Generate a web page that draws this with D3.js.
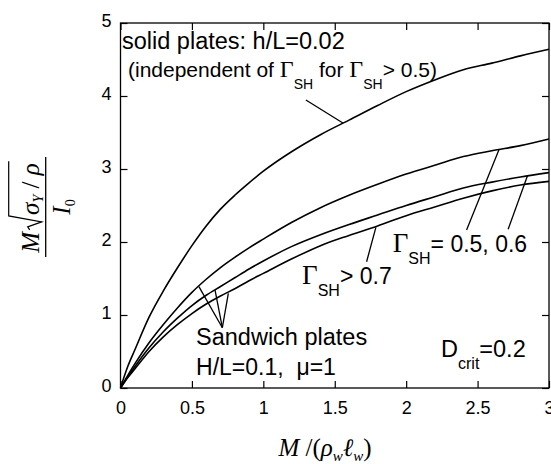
<!DOCTYPE html>
<html>
<head>
<meta charset="utf-8">
<script src="https://d3js.org/d3.v7.min.js"></script>
<style>
  body { margin: 0; background: #fff; }
  text { font-family: "Liberation Sans", Arial, Helvetica, sans-serif; fill: #000; }
  .serif { font-family: "Liberation Serif", "Times New Roman", serif; }
</style>
</head>
<body>
<div id="chart"></div>
<script>
// tick labels
var xTicks = [0, 0.5, 1, 1.5, 2, 2.5, 3];
var yTicks = [0, 1, 2, 3, 4, 5];

// shared abscissa M/(rho_w l_w)
var xValues = [0, 0.05, 0.1, 0.2, 0.3, 0.4, 0.5, 0.6, 0.7, 0.8, 0.9, 1.0,
               1.2, 1.4, 1.6, 1.8, 2.0, 2.2, 2.4, 2.6, 2.8, 3.0];

// solid plates, h/L = 0.02
var solidValues = [0, 0.29, 0.52, 0.97, 1.33, 1.65, 1.95, 2.22, 2.45, 2.64, 2.81, 2.97,
                   3.24, 3.47, 3.67, 3.87, 4.06, 4.22, 4.36, 4.45, 4.55, 4.64];
// sandwich plates, Gamma_SH = 0.5
var sandwich05 = [0, 0.17, 0.33, 0.62, 0.87, 1.10, 1.31, 1.49, 1.65, 1.79, 1.92, 2.04,
                  2.27, 2.47, 2.64, 2.79, 2.93, 3.05, 3.17, 3.25, 3.32, 3.41];
// sandwich plates, Gamma_SH = 0.6
var sandwich06 = [0, 0.15, 0.29, 0.55, 0.77, 0.96, 1.13, 1.27, 1.39, 1.51, 1.63, 1.74,
                  1.94, 2.10, 2.24, 2.37, 2.50, 2.62, 2.74, 2.82, 2.89, 2.95];
// sandwich plates, Gamma_SH > 0.7
var sandwich07 = [0, 0.14, 0.26, 0.50, 0.70, 0.87, 1.02, 1.15, 1.26, 1.36, 1.47, 1.57,
                  1.77, 1.95, 2.09, 2.22, 2.36, 2.48, 2.60, 2.70, 2.78, 2.83];

// leader lines [from, to] in data units
var leaders = [
  [[1.298, 3.945], [1.557, 3.63]],
  [[2.423, 2.164], [2.651, 3.27]],
  [[2.714, 2.174], [2.850, 2.91]],
  [[1.723, 1.730], [1.788, 2.20]],
  [[0.713, 0.826], [0.549, 1.388]],
  [[0.713, 0.826], [0.662, 1.342]],
  [[0.713, 0.826], [0.755, 1.297]]
];

var width = 551, height = 464;

var x = d3.scaleLinear().domain([0, 3]).range([120.5, 549]);
var y = d3.scaleLinear().domain([0, 5]).range([388, 23]);

var svg = d3.select("#chart").append("svg")
  .attr("width", width)
  .attr("height", height);

// axes, ticks pointing inward on all four sides
var gx = svg.append("g").attr("transform", "translate(0," + y(0) + ")")
  .call(d3.axisBottom(x).tickValues(xTicks).tickSize(-7).tickPadding(13).tickFormat(function(d) { return d; }));
var gy = svg.append("g").attr("transform", "translate(" + x(0) + ",0)")
  .call(d3.axisLeft(y).tickValues(yTicks).tickSize(-7).tickPadding(9).tickFormat(function(d) { return d; }));
svg.append("g").attr("transform", "translate(0," + y(5) + ")")
  .call(d3.axisTop(x).tickValues(xTicks).tickSize(-7).tickFormat(""));
svg.append("g").attr("transform", "translate(" + x(3) + ",0)")
  .call(d3.axisRight(y).tickValues(yTicks).tickSize(-7).tickFormat(""));

svg.selectAll(".domain").remove();
svg.selectAll(".tick line").attr("stroke", "#000").attr("stroke-width", 1.2);
svg.selectAll(".tick text").attr("font-size", 18).attr("font-family", null);
gy.selectAll(".tick text").attr("dy", "0.17em");

svg.append("rect")
  .attr("x", x(0)).attr("y", y(5))
  .attr("width", x(3) - x(0)).attr("height", y(0) - y(5))
  .attr("fill", "none").attr("stroke", "#000").attr("stroke-width", 1.3);

// curves
var line = d3.line()
  .x(function(d) { return x(d[0]); })
  .y(function(d) { return y(d[1]); })
  .curve(d3.curveMonotoneX);

[solidValues, sandwich05, sandwich06, sandwich07].forEach(function(vals) {
  svg.append("path")
    .datum(d3.zip(xValues, vals))
    .attr("d", line)
    .attr("fill", "none")
    .attr("stroke", "#000")
    .attr("stroke-width", 1.6);
});

svg.selectAll(".leader")
  .data(leaders)
  .enter().append("line")
  .attr("class", "leader")
  .attr("x1", function(d) { return x(d[0][0]); })
  .attr("y1", function(d) { return y(d[0][1]); })
  .attr("x2", function(d) { return x(d[1][0]); })
  .attr("y2", function(d) { return y(d[1][1]); })
  .attr("stroke", "#000")
  .attr("stroke-width", 1.3);

// annotation helper: parts are [text, kind] with kind "", "g" (serif Gamma) or "sub"
function label(px, py, parts, fs, gFs, subFs) {
  var t = svg.append("text")
    .attr("x", x(px)).attr("y", y(py))
    .attr("font-size", fs)
    .attr("xml:space", "preserve");
  var shift = 0;
  parts.forEach(function(p) {
    var ts = t.append("tspan").text(p[0]);
    if (p[1] === "g") ts.attr("class", "serif").attr("font-size", gFs);
    if (p[1] === "sub") {
      ts.attr("font-size", subFs).attr("dy", 12);
      shift = 12;
    } else if (shift) {
      ts.attr("dy", -shift);
      shift = 0;
    }
  });
  return t;
}

label(0.0105, 4.644, [["solid plates: h/L=0.02", ""]], 23.5);
label(0.0525, 4.26, [["(independent of ", ""], ["\u0393", "g"], ["SH", "sub"], [" for ", ""],
                     ["\u0393", "g"], ["SH", "sub"], ["> 0.5)", ""]], 21, 24, 14);
label(1.906, 1.863, [["\u0393", "g"], ["SH", "sub"], ["= 0.5, 0.6", ""]], 23, 27, 16);
label(1.271, 1.425, [["\u0393", "g"], ["SH", "sub"], ["> 0.7", ""]], 23, 27, 16);
label(0.529, 0.589, [["Sandwich plates", ""]], 23.5);
label(0.529, 0.178, [["H/L=0.1,  \u03bc=1", ""]], 23);
label(2.244, 0.425, [["D", ""], ["crit", "sub"], ["=0.2", ""]], 23.5, 27, 16);

// x axis title
var xt = svg.append("text")
  .attr("class", "serif")
  .attr("x", 325).attr("y", 456)
  .attr("text-anchor", "middle")
  .attr("font-size", 25)
  .attr("font-style", "italic")
  .attr("xml:space", "preserve");
xt.append("tspan").text("M");
xt.append("tspan").attr("font-style", "normal").text(" /(");
xt.append("tspan").text("\u03c1");
xt.append("tspan").attr("font-size", 15).attr("dy", 5).text("w");
xt.append("tspan").attr("dy", -5).text("\u2113");
xt.append("tspan").attr("font-size", 15).attr("dy", 5).text("w");
xt.append("tspan").attr("font-style", "normal").attr("dy", -5).text(")");

// y axis title: fraction, rotated
var yl = svg.append("g").attr("transform", "translate(45.7,207) rotate(-90)");
yl.append("line").attr("x1", -50).attr("x2", 50).attr("y1", 0).attr("y2", 0)
  .attr("stroke", "#000").attr("stroke-width", 1.3);

var num = yl.append("g");
var cx = 0;
function piece(str, size, dy, italic) {
  var t = num.append("text").attr("class", "serif")
    .attr("x", cx).attr("y", dy)
    .attr("font-size", size)
    .attr("font-style", italic ? "italic" : "normal")
    .attr("xml:space", "preserve")
    .text(str);
  cx += t.node().getComputedTextLength();
  return t;
}
piece("M", 25, 0, true);
cx += 2;
var rStart = cx;
cx += 15;
piece("\u03c3", 25, 0, true);
piece("Y", 14, 4, true);
piece(" / ", 25, 0, false);
piece("\u03c1", 25, 0, true);
var oEnd = cx + 2;
num.append("path")
  .attr("d", "M" + rStart + ",-9 L" + (rStart + 3) + ",-11 L" + (rStart + 8) + ",3 L" + (rStart + 14) + ",-30 L" + oEnd + ",-30")
  .attr("fill", "none").attr("stroke", "#000").attr("stroke-width", 1.2);
num.attr("transform", "translate(" + (-oEnd / 2) + ",-7)");

var den = yl.append("text").attr("class", "serif")
  .attr("x", 0).attr("y", 24)
  .attr("text-anchor", "middle")
  .attr("font-size", 25)
  .attr("font-style", "italic");
den.append("tspan").text("I");
den.append("tspan").attr("font-size", 14).attr("font-style", "normal").attr("dy", 5).text("0");
</script>
</body>
</html>
